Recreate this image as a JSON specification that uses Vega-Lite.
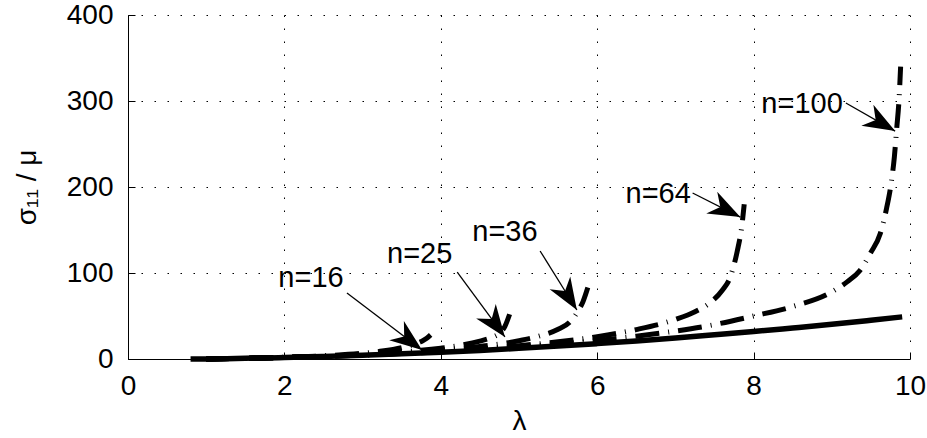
{
  "$schema": "https://vega.github.io/schema/vega-lite/v6.json",
  "width": 782,
  "height": 344,
  "autosize": "none",
  "padding": {"left": 128, "top": 15, "right": 17, "bottom": 79},
  "background": "white",
  "config": {
    "font": "Liberation Sans",
    "view": {"stroke": null},
    "axis": {
      "domainColor": "#000",
      "domainWidth": 1,
      "tickColor": "#000",
      "tickSize": -7,
      "tickWidth": 1,
      "labelColor": "#000",
      "labelFontSize": 28,
      "labelFont": "Liberation Sans",
      "titleFont": "Liberation Sans",
      "titleFontSize": 28,
      "titleFontWeight": "normal",
      "titleColor": "#000",
      "grid": true,
      "gridColor": "#000",
      "gridDash": [1.5, 11.5],
      "gridWidth": 1,
      "gridOpacity": 1,
      "labelFlush": false,
      "labelOverlap": false
    }
  },
  "datasets": {
    "curves": [
      {"series": "neo", "lam": 0.8, "s": 0},
      {"series": "neo", "lam": 1.0, "s": 0.05},
      {"series": "neo", "lam": 1.5, "s": 0.79},
      {"series": "neo", "lam": 2.0, "s": 1.75},
      {"series": "neo", "lam": 2.5, "s": 2.93},
      {"series": "neo", "lam": 3.0, "s": 4.33},
      {"series": "neo", "lam": 3.5, "s": 5.98},
      {"series": "neo", "lam": 4.0, "s": 7.88},
      {"series": "neo", "lam": 4.5, "s": 10.0},
      {"series": "neo", "lam": 5.0, "s": 12.4},
      {"series": "neo", "lam": 5.5, "s": 15.0},
      {"series": "neo", "lam": 6.0, "s": 17.9},
      {"series": "neo", "lam": 6.5, "s": 21.0},
      {"series": "neo", "lam": 7.0, "s": 24.4},
      {"series": "neo", "lam": 7.5, "s": 28.1},
      {"series": "neo", "lam": 8.0, "s": 31.9},
      {"series": "neo", "lam": 8.5, "s": 36.1},
      {"series": "neo", "lam": 9.0, "s": 40.4},
      {"series": "neo", "lam": 9.5, "s": 45.1},
      {"series": "neo", "lam": 9.9, "s": 49.0},

      {"series": "n16", "lam": 1.0, "s": 0},
      {"series": "n16", "lam": 1.5, "s": 0.85},
      {"series": "n16", "lam": 2.0, "s": 2.0},
      {"series": "n16", "lam": 2.5, "s": 3.75},
      {"series": "n16", "lam": 3.0, "s": 6.7},
      {"series": "n16", "lam": 3.25, "s": 9.2},
      {"series": "n16", "lam": 3.5, "s": 13.2},
      {"series": "n16", "lam": 3.65, "s": 16.8},
      {"series": "n16", "lam": 3.75, "s": 20.3},
      {"series": "n16", "lam": 3.82, "s": 24},
      {"series": "n16", "lam": 3.87, "s": 28},

      {"series": "n25", "lam": 1.0, "s": 0},
      {"series": "n25", "lam": 1.5, "s": 0.83},
      {"series": "n25", "lam": 2.0, "s": 1.9},
      {"series": "n25", "lam": 2.5, "s": 3.35},
      {"series": "n25", "lam": 3.0, "s": 5.35},
      {"series": "n25", "lam": 3.5, "s": 8.2},
      {"series": "n25", "lam": 4.0, "s": 12.6},
      {"series": "n25", "lam": 4.25, "s": 15.9},
      {"series": "n25", "lam": 4.5, "s": 20.8},
      {"series": "n25", "lam": 4.65, "s": 25},
      {"series": "n25", "lam": 4.75, "s": 30},
      {"series": "n25", "lam": 4.82, "s": 38},
      {"series": "n25", "lam": 4.88, "s": 52},

      {"series": "n36", "lam": 1.0, "s": 0},
      {"series": "n36", "lam": 1.5, "s": 0.82},
      {"series": "n36", "lam": 2.0, "s": 1.85},
      {"series": "n36", "lam": 2.5, "s": 3.2},
      {"series": "n36", "lam": 3.0, "s": 4.95},
      {"series": "n36", "lam": 3.5, "s": 7.25},
      {"series": "n36", "lam": 4.0, "s": 10.3},
      {"series": "n36", "lam": 4.5, "s": 14.6},
      {"series": "n36", "lam": 5.0, "s": 21.2},
      {"series": "n36", "lam": 5.25, "s": 26.5},
      {"series": "n36", "lam": 5.5, "s": 34.5},
      {"series": "n36", "lam": 5.65, "s": 43},
      {"series": "n36", "lam": 5.75, "s": 55},
      {"series": "n36", "lam": 5.82, "s": 67},
      {"series": "n36", "lam": 5.88, "s": 83},

      {"series": "n64", "lam": 1.0, "s": 0},
      {"series": "n64", "lam": 1.5, "s": 0.8},
      {"series": "n64", "lam": 2.0, "s": 1.8},
      {"series": "n64", "lam": 2.5, "s": 3.05},
      {"series": "n64", "lam": 3.0, "s": 4.6},
      {"series": "n64", "lam": 3.5, "s": 6.55},
      {"series": "n64", "lam": 4.0, "s": 8.95},
      {"series": "n64", "lam": 4.5, "s": 11.9},
      {"series": "n64", "lam": 5.0, "s": 15.5},
      {"series": "n64", "lam": 5.5, "s": 20},
      {"series": "n64", "lam": 6.0, "s": 26},
      {"series": "n64", "lam": 6.5, "s": 34.2},
      {"series": "n64", "lam": 7.0, "s": 46},
      {"series": "n64", "lam": 7.25, "s": 55},
      {"series": "n64", "lam": 7.45, "s": 66},
      {"series": "n64", "lam": 7.6, "s": 80},
      {"series": "n64", "lam": 7.7, "s": 95},
      {"series": "n64", "lam": 7.79, "s": 125},
      {"series": "n64", "lam": 7.85, "s": 155},
      {"series": "n64", "lam": 7.88, "s": 180},

      {"series": "n100", "lam": 1.0, "s": 0},
      {"series": "n100", "lam": 1.5, "s": 0.8},
      {"series": "n100", "lam": 2.0, "s": 1.79},
      {"series": "n100", "lam": 2.5, "s": 3.0},
      {"series": "n100", "lam": 3.0, "s": 4.5},
      {"series": "n100", "lam": 3.5, "s": 6.3},
      {"series": "n100", "lam": 4.0, "s": 8.5},
      {"series": "n100", "lam": 4.5, "s": 11},
      {"series": "n100", "lam": 5.0, "s": 14},
      {"series": "n100", "lam": 5.5, "s": 17.5},
      {"series": "n100", "lam": 6.0, "s": 21.5},
      {"series": "n100", "lam": 6.5, "s": 26.5},
      {"series": "n100", "lam": 7.0, "s": 32.5},
      {"series": "n100", "lam": 7.5, "s": 40},
      {"series": "n100", "lam": 8.0, "s": 50},
      {"series": "n100", "lam": 8.5, "s": 61},
      {"series": "n100", "lam": 9.0, "s": 78},
      {"series": "n100", "lam": 9.2, "s": 90},
      {"series": "n100", "lam": 9.36, "s": 103},
      {"series": "n100", "lam": 9.5, "s": 124},
      {"series": "n100", "lam": 9.62, "s": 146},
      {"series": "n100", "lam": 9.7, "s": 175},
      {"series": "n100", "lam": 9.76, "s": 205},
      {"series": "n100", "lam": 9.8, "s": 235},
      {"series": "n100", "lam": 9.83, "s": 268},
      {"series": "n100", "lam": 9.86, "s": 302},
      {"series": "n100", "lam": 9.88, "s": 340}
    ],
    "notes": [
      {"label": "n=16", "tx": 2.34, "ty": 94, "x0": 2.80, "y0": 76.7, "x1": 3.76, "y1": 10.5},
      {"label": "n=25", "tx": 3.73, "ty": 122, "x0": 4.21, "y0": 101, "x1": 4.82, "y1": 25.6},
      {"label": "n=36", "tx": 4.82, "ty": 148, "x0": 5.27, "y0": 125.6, "x1": 5.74, "y1": 57},
      {"label": "n=64", "tx": 6.78, "ty": 192, "x0": 7.22, "y0": 193, "x1": 7.83, "y1": 165},
      {"label": "n=100", "tx": 8.62, "ty": 296.5, "x0": 9.18, "y0": 297.7, "x1": 9.81, "y1": 265}
    ]
  },
  "layer": [
    {
      "data": {"name": "curves"},
      "transform": [{"filter": "datum.series === 'neo'"}],
      "mark": {"type": "line", "color": "#000", "strokeWidth": 5.5, "interpolate": "monotone", "strokeCap": "butt"},
      "encoding": {
        "x": {"field": "lam", "type": "quantitative", "scale": {"domain": [0, 10], "nice": false, "zero": false},
              "axis": {"values": [0, 2, 4, 6, 8, 10], "format": "d", "title": "λ", "labelPadding": 20, "titlePadding": 7}},
        "y": {"field": "s", "type": "quantitative", "scale": {"domain": [0, 400], "nice": false},
              "axis": {"values": [0, 100, 200, 300, 400], "format": "d", "title": "σ₁₁ / μ", "labelPadding": 22, "titlePadding": 25}}
      }
    },
    {
      "data": {"name": "curves"},
      "transform": [{"filter": "datum.series !== 'neo'"}],
      "mark": {"type": "line", "color": "#000", "strokeWidth": 5, "interpolate": "monotone", "strokeDash": [24, 9, 1, 9], "strokeCap": "butt"},
      "encoding": {
        "x": {"field": "lam", "type": "quantitative"},
        "y": {"field": "s", "type": "quantitative"},
        "detail": {"field": "series", "type": "nominal"}
      }
    },
    {
      "data": {"name": "notes"},
      "mark": {"type": "rule", "color": "#000", "strokeWidth": 1.3},
      "encoding": {
        "x": {"field": "x0", "type": "quantitative"},
        "y": {"field": "y0", "type": "quantitative"},
        "x2": {"field": "x1"},
        "y2": {"field": "y1"}
      }
    },
    {
      "data": {"name": "notes"},
      "transform": [
        {"calculate": "atan2((datum.y0 - datum.y1) * 344 / 400, (datum.x1 - datum.x0) * 782 / 10) * 180 / PI", "as": "ang"}
      ],
      "mark": {"type": "point", "shape": "M0,0 L-1,-0.38 L-0.7,0 L-1,0.38 Z", "size": 4096, "filled": true, "color": "#000", "opacity": 1, "strokeWidth": 0},
      "encoding": {
        "x": {"field": "x1", "type": "quantitative"},
        "y": {"field": "y1", "type": "quantitative"},
        "angle": {"field": "ang", "type": "quantitative", "scale": null}
      }
    },
    {
      "data": {"name": "notes"},
      "mark": {"type": "text", "fontSize": 29, "align": "center", "baseline": "middle", "color": "#000", "font": "Liberation Sans"},
      "encoding": {
        "x": {"field": "tx", "type": "quantitative"},
        "y": {"field": "ty", "type": "quantitative"},
        "text": {"field": "label"}
      }
    }
  ]
}
